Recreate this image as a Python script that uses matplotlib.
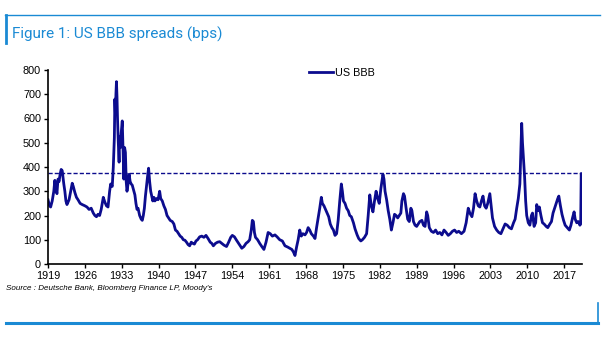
import matplotlib
matplotlib.use('Agg')
import matplotlib.pyplot as plt
from matplotlib.lines import Line2D

# US BBB spread, bps
years = [1919.0, 1919.3, 1919.5, 1919.8, 1920.1, 1920.3, 1920.5, 1920.7, 1920.9, 1921.1,
         1921.3, 1921.5, 1921.7, 1922.0, 1922.2, 1922.4, 1922.6, 1922.8, 1923.0, 1923.3,
         1923.6, 1923.8, 1924.1, 1924.4, 1924.7, 1925.1, 1925.5, 1926.0, 1926.4, 1926.8,
         1927.2, 1927.6, 1927.9, 1928.2, 1928.5, 1928.8, 1929.1, 1929.5, 1929.8, 1930.1,
         1930.4, 1930.7, 1930.9, 1931.2, 1931.4, 1931.6, 1931.7, 1931.8, 1931.9, 1932.0,
         1932.1, 1932.2, 1932.35, 1932.5, 1932.6, 1932.75, 1932.9, 1933.1, 1933.25, 1933.4,
         1933.55, 1933.7, 1933.85, 1934.0, 1934.2, 1934.4, 1934.6, 1934.8, 1935.0, 1935.3,
         1935.5, 1935.7, 1935.9, 1936.1, 1936.4, 1936.7, 1936.9, 1937.1, 1937.3, 1937.5,
         1937.7, 1937.9, 1938.1, 1938.3, 1938.5, 1938.7, 1938.9, 1939.1, 1939.3, 1939.6,
         1939.9, 1940.2, 1940.4, 1940.7, 1941.0, 1941.3, 1941.6, 1941.9, 1942.2, 1942.6,
         1942.9, 1943.2, 1943.5, 1943.8, 1944.1, 1944.4, 1944.7, 1945.0, 1945.3, 1945.6,
         1945.9, 1946.2, 1946.5, 1946.8, 1947.1, 1947.4, 1947.8, 1948.2, 1948.6, 1949.0,
         1949.4, 1949.8, 1950.1, 1950.4, 1950.8, 1951.2, 1951.6, 1952.0, 1952.4, 1952.9,
         1953.3, 1953.7, 1954.0, 1954.4, 1954.8, 1955.2, 1955.5, 1955.8, 1956.2, 1956.6,
         1957.0, 1957.3, 1957.6, 1957.8, 1958.0, 1958.2, 1958.4, 1958.8, 1959.2, 1959.6,
         1960.0, 1960.4, 1960.8, 1961.2, 1961.6, 1962.1, 1962.5, 1963.0, 1963.5, 1964.0,
         1964.5, 1964.9, 1965.3, 1965.6, 1965.9, 1966.2, 1966.5, 1966.8, 1967.1, 1967.4,
         1967.8, 1968.1, 1968.4, 1968.7, 1969.0, 1969.4, 1969.7, 1970.0, 1970.3, 1970.6,
         1970.9, 1971.1, 1971.4, 1971.7, 1972.0, 1972.3, 1972.6, 1972.9, 1973.2, 1973.5,
         1973.8, 1974.1, 1974.4, 1974.7, 1974.9, 1975.1, 1975.4, 1975.7, 1976.0, 1976.3,
         1976.6, 1977.0, 1977.3, 1977.7, 1978.0, 1978.4, 1978.7, 1979.1, 1979.5, 1979.8,
         1980.1, 1980.4, 1980.7, 1981.0, 1981.3, 1981.6, 1981.9, 1982.2, 1982.4, 1982.6,
         1982.8, 1983.0, 1983.3, 1983.6, 1983.9, 1984.2, 1984.5, 1984.8, 1985.1, 1985.4,
         1985.7, 1986.0, 1986.2, 1986.5, 1986.7, 1987.0, 1987.3, 1987.6, 1987.9, 1988.1,
         1988.4, 1988.7, 1989.0, 1989.3, 1989.6, 1990.0, 1990.3, 1990.6, 1990.9, 1991.1,
         1991.4, 1991.8, 1992.2, 1992.6, 1993.0, 1993.4, 1993.8, 1994.2, 1994.6, 1995.0,
         1995.4, 1995.8, 1996.2, 1996.6, 1997.0, 1997.5, 1998.0, 1998.4, 1998.8, 1999.1,
         1999.5, 1999.8, 2000.1, 2000.4, 2000.7, 2001.0, 2001.3, 2001.6, 2001.9, 2002.2,
         2002.5, 2002.9, 2003.1, 2003.4, 2003.8, 2004.2, 2004.6, 2005.0, 2005.4, 2005.8,
         2006.2, 2006.6, 2007.0, 2007.4, 2007.7, 2008.0, 2008.3, 2008.6, 2008.8, 2008.95,
         2009.1, 2009.3, 2009.5, 2009.7, 2009.9, 2010.2, 2010.5, 2010.8, 2011.0, 2011.3,
         2011.6, 2011.8, 2012.1, 2012.3, 2012.6, 2012.9, 2013.2, 2013.6, 2013.9, 2014.3,
         2014.6, 2014.9, 2015.2, 2015.5, 2015.8, 2016.0, 2016.3, 2016.6, 2016.9, 2017.2,
         2017.6, 2018.0, 2018.3, 2018.6, 2018.9, 2019.1, 2019.4, 2019.7, 2020.0, 2020.15,
         2020.25, 2020.3]
spread = [265, 240, 235, 260, 300, 345, 310, 290, 350, 340,
          370, 390, 385, 330, 300, 260, 245, 255, 265, 300,
          333, 320, 295, 275, 265, 250, 245, 240, 235, 225,
          230, 210, 200, 195, 205, 200, 225, 275, 255, 240,
          235, 300, 330, 320, 400, 520, 680, 620, 700, 752,
          690, 600, 500, 420, 525, 480, 540, 590, 470, 350,
          480, 460, 340, 300, 330, 370, 340, 330, 325, 300,
          285, 250, 225, 230, 200, 185, 180, 200, 230, 280,
          320, 360, 395, 340, 300, 280, 260, 275, 260, 270,
          265, 300, 270, 260, 240, 225, 200, 190, 180, 175,
          165, 140, 135, 125, 115, 110, 100, 98, 90, 80,
          75, 90, 85, 82, 95, 100, 112, 115, 110, 118,
          105, 90, 85, 75, 85, 90, 92, 85, 78, 72,
          90, 110, 118, 112, 98, 85, 75, 65, 72, 85,
          92, 100, 140, 180, 175, 130, 110, 100, 85, 72,
          60, 90, 130, 125, 115, 120, 112, 100, 95, 75,
          70, 65, 60, 50, 35, 70, 100, 140, 115, 125,
          120, 130, 150, 140, 125, 115, 105, 150, 190, 230,
          275, 250, 240, 225, 210, 195, 165, 150, 140, 118,
          125, 180, 260, 330, 300, 260, 250, 230, 220, 200,
          195, 170, 145, 120, 105, 95, 100, 110, 125, 200,
          285, 240, 215, 260, 300, 270, 250, 310, 340, 370,
          350, 300, 265, 220, 185, 140, 170, 205, 200, 190,
          200, 210, 260, 290, 280, 230, 185, 175, 230, 220,
          175, 160, 155, 165, 175, 180, 160, 155, 215, 200,
          150, 135, 130, 140, 125, 130, 120, 140, 130, 118,
          125, 135, 140, 130, 135, 125, 135, 170, 230, 210,
          195, 230, 290, 260, 240, 235, 260, 280, 240, 230,
          250, 290, 250, 190, 155, 140, 130, 125, 145, 165,
          160, 150, 145, 170, 185, 230, 270, 330, 480, 580,
          500, 430, 360, 260, 200, 170, 160, 200, 210, 155,
          170, 245, 220, 235, 200, 170, 165, 155, 150, 165,
          175, 210, 230, 250, 270, 280, 240, 205, 180, 160,
          150, 140, 160, 190, 215, 185, 170, 175, 160, 165,
          373, 370]

avg_level = 375
xticks = list(range(1919, 2018, 7))
yticks = list(range(0, 801, 100))

navy = '#0c0c8e'
blue = '#1a8ad4'

plt.rcParams['font.family'] = ['Liberation Sans', 'DejaVu Sans']

fig = plt.figure(figsize=(6.05, 3.41), dpi=100)
ax = fig.add_axes([48/605, 1-264/341, 534/605, 194/341])

ax.plot(years, spread, color=navy, lw=2.0, solid_joinstyle='round')
ax.axhline(avg_level, color=navy, lw=1.0, ls=(0, (3, 1.5)))

ax.set_xlim(1919, 2020.4)
ax.set_ylim(0, 800)
ax.set_xticks(xticks)
ax.set_yticks(yticks)
ax.tick_params(labelsize=7.8, length=3, width=1, direction='out', pad=2)
for s in ['top', 'right']:
    ax.spines[s].set_visible(False)
for s in ['left', 'bottom']:
    ax.spines[s].set_linewidth(1.2)

ax.legend(handles=[Line2D([], [], color=navy, lw=2.0)], labels=['US BBB'],
          loc='upper center', bbox_to_anchor=(0.55, 1.06), frameon=False,
          fontsize=7.8, handlelength=2.2, handletextpad=0.2)

# frame decorations
fig.add_artist(Line2D([5/605, 600/605], [1-15/341, 1-15/341], color=blue, lw=1.0))
fig.add_artist(Line2D([6/605, 6/605], [1-15/341, 1-43/341], color=blue, lw=2.0))
fig.add_artist(Line2D([6/605, 598/605], [1-323/341, 1-323/341], color=blue, lw=2.2))
fig.add_artist(Line2D([598/605, 598/605], [1-303/341, 1-323/341], color=blue, lw=1.2))

fig.text(12/605, 1-34/341, 'Figure 1: US BBB spreads (bps)', color=blue, fontsize=11,
         family=['Roboto', 'DejaVu Sans'], va='center', ha='left')
fig.text(6/605, 1-288/341, "Source : Deutsche Bank, Bloomberg Finance LP, Moody's",
         fontsize=5.8, style='italic', va='center', ha='left')

fig.savefig('out.png', dpi=100)
